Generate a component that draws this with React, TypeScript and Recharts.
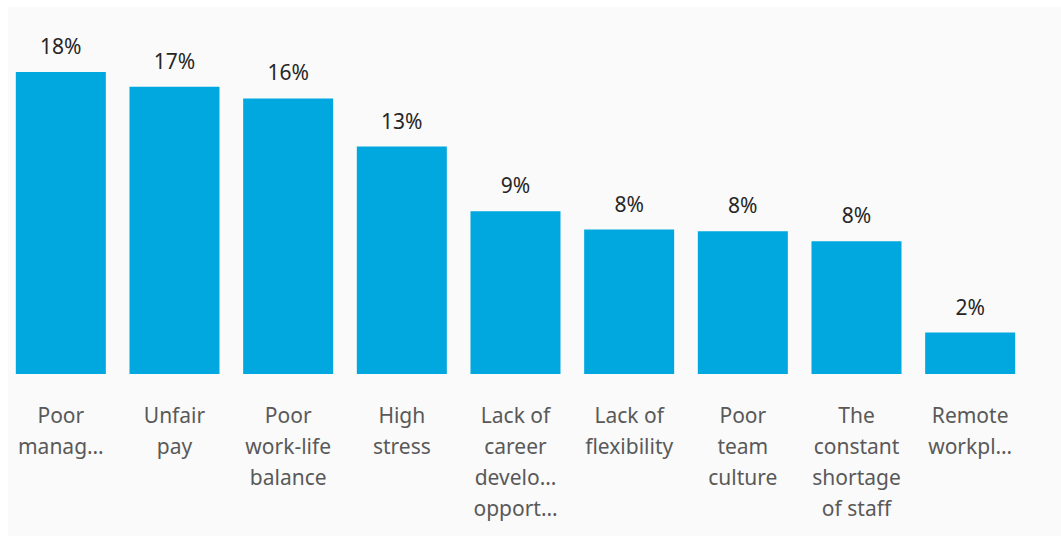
import { Bar, BarChart, LabelList, XAxis, YAxis } from 'recharts'

const CATEGORIES: string[] = [
  'Poor\nmanag…',
  'Unfair\npay',
  'Poor\nwork-life\nbalance',
  'High\nstress',
  'Lack of\ncareer\ndevelo…\nopport…',
  'Lack of\nflexibility',
  'Poor\nteam\nculture',
  'The\nconstant\nshortage\nof staff',
  'Remote\nworkpl…',
]
// labels show the whole percent
const SHARES: number[] = [18.2, 17.3, 16.6, 13.7, 9.8, 8.7, 8.6, 8.0, 2.5]

const BAR_COLOR = '#00a8df'
const FONT = '"Noto Sans", "Open Sans", sans-serif'

const data = CATEGORIES.map((c, i) => ({ name: c, share: SHARES[i] }))

function CategoryTick({ x, y, payload }: any) {
  const lines = String(payload.value).split('\n')
  return (
    <text x={x} y={y} textAnchor="middle" fill="#595959" fontSize={21} fontFamily={FONT}>
      {lines.map((line, i) => (
        <tspan key={i} x={x} dy={i === 0 ? 41 : 31}>
          {line}
        </tspan>
      ))}
    </text>
  )
}

export default function App() {
  return (
    <div style={{ position: 'absolute', left: 0, top: 0, width: 1061, height: 536, background: '#fff' }}>
      <div
        style={{ position: 'absolute', left: 8, top: 7, width: 1053, height: 529, background: '#fafafa' }}
      />
      <div style={{ position: 'absolute', left: 0, top: 0 }}>
        <BarChart
          width={1061}
          height={536}
          data={data}
          margin={{ top: 42, right: 34, left: 4, bottom: 0 }}
          barCategoryGap="10.4%"
        >
          <XAxis
            dataKey="name"
            axisLine={false}
            tickLine={false}
            interval={0}
            height={162}
            tick={<CategoryTick />}
          />
          <YAxis hide domain={[0, 20]} />
          <Bar dataKey="share" fill={BAR_COLOR} isAnimationActive={false}>
            <LabelList
              dataKey="share"
              position="top"
              offset={18}
              fill="#262626"
              fontSize={21}
              fontFamily={FONT}
              formatter={(v: any) => `${Math.floor(Number(v))}%`}
            />
          </Bar>
        </BarChart>
      </div>
    </div>
  )
}
